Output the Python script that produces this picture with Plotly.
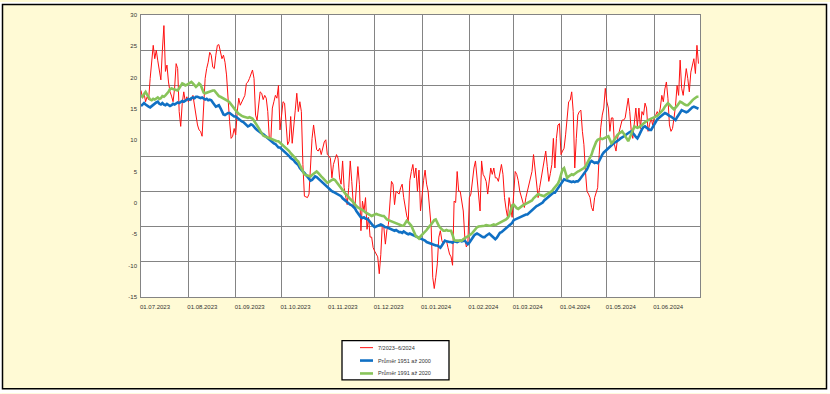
import pandas as pd
import plotly.graph_objects as go

# ---------------- data ----------------
start_date = "2023-07-01"
end_date = "2024-07-01"

series_names = ["7/2023\u20136/2024", "Pr\u016fm\u011br 1951 a\u017e 2000", "Pr\u016fm\u011br 1991 a\u017e 2020"]

# daily values 01.07.2023 - 30.06.2024 (one row per month)
temp_2023_2024 = (
    [19.3, 18.2, 18.9, 17.7, 18.4, 18.0, 21.0, 23.3, 25.7, 23.8, 25.0, 23.5, 22.4, 20.8, 25.0, 28.5,
     22.0, 22.9, 20.5, 19.1, 18.5, 17.7, 19.6, 23.1, 22.4, 16.3, 14.2, 17.5, 19.1, 17.7, 18.4]
    + [17.7, 18.2, 17.9, 18.6, 17.2, 15.8, 14.4, 13.7, 13.5, 12.8, 17.5, 21.0, 22.4, 23.3, 24.7, 24.3,
       22.6, 22.4, 24.3, 25.7, 25.8, 25.0, 23.8, 24.3, 23.3, 21.5, 17.7, 14.9, 12.5, 12.8, 13.9]
    + [13.0, 16.3, 18.2, 17.2, 17.7, 18.2, 18.6, 20.3, 20.5, 21.0, 21.7, 22.2, 21.0, 15.8, 15.1,
       17.0, 19.1, 18.9, 18.0, 18.6, 18.2, 16.3, 12.5, 12.3, 16.8, 17.7, 18.6, 18.2, 20.0, 13.7]
    + [15.5, 17.7, 17.5, 14.0, 11.6, 12.1, 15.6, 11.8, 14.9, 16.5, 18.9, 16.3, 17.7, 16.3, 8.8, 4.3,
       4.2, 4.1, 4.6, 9.7, 12.5, 14.4, 12.1, 10.9, 10.7, 11.1, 10.2, 11.1, 12.0, 12.3, 10.2]
    + [10.0, 9.7, 6.9, 8.8, 9.5, 10.2, 9.7, 6.9, 6.0, 9.3, 5.5, 4.0, 3.1, 5.5, 9.3,
       6.4, 3.1, 2.6, 5.5, 8.5, 6.0, -0.6, 3.6, 2.2, 4.1, -0.4, 1.3, -1.5, -1.5, -3.0]
    + [-3.5, -3.9, -4.3, -6.7, -4.0, 0.3, -0.1, -2.5, -0.5, 0.3, 4.0, 6.4, 6.0, 3.1, 5.0, 4.8,
       4.6, 5.5, 6.0, 4.1, 2.6, 1.5, 0.8, 6.5, 7.8, 8.8, 6.9, 8.3, 5.0, 8.0, 2.2]
    + [5.0, 6.5, 8.0, 6.0, 5.0, 2.2, -0.1, -7.2, -8.8, -7.2, -5.3, -1.5, -0.6, -2.0, -2.5, -2.0,
       -2.0, -3.0, -3.9, -4.3, -5.5, 3.6, 3.4, 7.8, 5.0, 5.0, 3.5, 2.2, -1.5, -2.9, -2.5]
    + [4.1, 4.6, 6.9, 8.3, 9.3, 7.0, 5.5, 2.2, 9.3, 7.4, 7.0, 6.4, 4.6, 6.5, 8.3,
       7.4, 8.3, 6.9, 6.9, 6.4, 7.5, 8.8, 7.4, 4.1, 2.5, 1.3, 4.1, 2.5, 1.3]
    + [4.5, 7.8, 7.4, 6.5, 5.0, 4.1, 3.5, 2.7, 4.1, 5.0, 6.0, 7.0, 7.8, 10.2, 7.8, 6.0,
       4.1, 5.5, 6.9, 8.5, 9.5, 10.7, 8.5, 6.4, 7.5, 8.8, 12.5, 8.3, 12.5, 14.4, 14.6]
    + [10.2, 10.7, 11.1, 13.0, 14.9, 17.7, 17.9, 19.1, 16.3, 8.3, 12.5, 15.8, 16.3, 16.5, 13.5,
       11.6, 7.8, 5.0, 4.6, 4.1, 2.7, 2.2, 4.1, 5.0, 5.5, 10.2, 14.0, 15.8, 16.8, 19.6]
    + [17.7, 16.8, 13.5, 15.4, 15.4, 11.6, 10.7, 12.5, 13.5, 14.4, 15.1, 15.1, 15.4, 16.8, 18.2, 16.3,
       13.5, 12.5, 14.4, 16.8, 14.2, 16.8, 13.9, 16.3, 15.8, 17.5, 16.8, 13.5, 14.5, 15.4, 14.4]
    + [15.4, 15.8, 16.3, 15.8, 16.8, 18.6, 17.7, 19.5, 20.5, 18.2, 14.4, 13.5, 13.9, 15.4, 17.2,
       20.0, 18.6, 23.6, 19.6, 18.6, 20.5, 22.4, 21.0, 19.1, 21.9, 22.9, 23.8, 21.7, 25.7, 23.1]
)

avg_1951_2000 = (
    [17.1, 17.3, 17.5, 17.3, 17.1, 17.0, 16.9, 17.1, 17.3, 17.5, 17.6, 17.7, 17.4, 17.3, 17.5, 17.3,
     17.2, 17.4, 17.2, 17.1, 17.2, 17.4, 17.3, 17.5, 17.6, 17.5, 17.7, 17.8, 17.7, 17.9, 18.0]
    + [18.1, 18.0, 18.2, 18.3, 18.2, 18.4, 18.4, 18.3, 18.2, 18.3, 18.1, 18.0, 18.1, 17.9, 18.0, 17.9,
       17.6, 17.3, 17.0, 17.1, 17.2, 16.8, 16.3, 15.9, 15.8, 16.0, 16.1, 16.1, 15.9, 15.7, 15.6]
    + [15.6, 15.4, 15.3, 15.1, 14.9, 14.8, 14.6, 14.3, 14.2, 14.3, 14.5, 14.4, 14.1, 13.9, 13.7,
       13.5, 13.4, 13.2, 13.1, 12.9, 12.7, 12.5, 12.3, 12.2, 12.0, 11.8, 11.7, 11.5, 11.2, 11.2]
    + [11.0, 10.9, 10.7, 10.5, 10.2, 10.0, 9.7, 9.6, 9.4, 9.1, 8.9, 8.7, 8.3, 8.0, 7.8, 7.6,
       7.3, 7.0, 6.7, 6.5, 6.6, 6.9, 7.1, 7.0, 6.8, 6.5, 6.4, 6.2, 5.9, 5.7, 5.5]
    + [5.4, 5.2, 5.0, 4.9, 4.8, 4.6, 4.5, 4.4, 4.3, 4.0, 3.8, 3.6, 3.4, 3.3, 3.1,
       3.0, 2.8, 2.6, 2.2, 1.9, 1.6, 1.3, 1.2, 1.3, 1.1, 1.1, 0.9, 0.6, 0.3, 0.1]
    + [-0.1, 0.0, 0.1, 0.2, 0.3, 0.2, 0.0, -0.1, -0.1, -0.2, -0.3, -0.4, -0.5, -0.6, -0.5, -0.7,
       -0.8, -0.8, -0.9, -0.7, -0.9, -1.0, -1.1, -1.0, -1.1, -1.2, -1.2, -1.3, -1.4, -1.5, -1.7]
    + [-1.8, -1.9, -2.0, -2.2, -2.3, -2.4, -2.5, -2.6, -2.6, -2.7, -2.7, -2.9, -3.0, -2.7, -2.3, -2.0,
       -2.1, -2.2, -2.2, -2.2, -2.3, -2.1, -2.2, -2.2, -2.1, -2.0, -2.1, -2.0, -2.0, -2.3, -2.5]
    + [-2.3, -1.9, -1.5, -1.3, -1.1, -1.0, -1.1, -1.3, -1.4, -1.5, -1.5, -1.3, -1.1, -1.0, -1.2,
       -1.4, -1.6, -1.8, -1.6, -1.2, -0.9, -0.8, -0.6, -0.4, -0.2, -0.1, 0.1, 0.3, 0.5]
    + [0.9, 1.0, 1.2, 1.3, 1.4, 1.5, 1.5, 1.6, 1.7, 1.7, 1.9, 2.2, 2.4, 2.6, 2.7, 2.9,
       3.0, 3.1, 3.2, 3.4, 3.7, 3.9, 4.1, 4.3, 4.4, 4.6, 4.8, 4.8, 5.1, 5.5, 5.8]
    + [6.1, 6.4, 6.7, 6.6, 6.5, 6.4, 6.4, 6.3, 6.4, 6.3, 6.4, 6.4, 6.6, 6.9, 7.2,
       7.4, 7.7, 8.1, 8.6, 9.1, 9.3, 9.2, 9.0, 9.1, 9.0, 9.3, 9.8, 10.2, 10.5, 10.7]
    + [10.9, 11.1, 11.4, 11.6, 11.7, 11.9, 12.0, 12.1, 12.3, 12.5, 12.6, 12.8, 12.9, 13.1, 13.3, 13.4,
       13.5, 13.3, 13.0, 12.7, 12.5, 12.9, 13.4, 13.8, 14.1, 14.2, 14.0, 13.8, 13.7, 13.7, 14.1]
    + [14.5, 14.9, 15.2, 15.4, 15.6, 15.8, 16.0, 16.1, 16.0, 15.8, 15.7, 15.6, 15.4, 15.2, 15.1,
       15.5, 15.9, 16.3, 16.5, 16.4, 16.3, 16.2, 16.3, 16.5, 16.8, 16.9, 17.0, 16.9, 16.8, 16.7]
)

avg_1991_2020 = (
    [18.6, 18.4, 18.8, 19.1, 18.7, 18.3, 18.0, 17.9, 18.1, 18.0, 18.1, 18.3, 18.1, 18.2, 18.5, 18.4,
     18.6, 18.8, 19.1, 19.5, 19.6, 19.5, 19.4, 19.3, 19.3, 19.6, 19.9, 20.3, 20.2, 20.0, 20.1]
    + [20.2, 20.4, 20.5, 20.3, 20.0, 19.8, 20.0, 20.3, 20.1, 19.5, 19.0, 18.9, 19.0, 19.1, 19.1, 19.2,
       19.3, 19.3, 19.0, 18.7, 18.5, 18.4, 18.3, 18.2, 18.1, 18.0, 17.8, 17.6, 17.3, 17.0, 16.8]
    + [16.5, 16.2, 16.0, 15.8, 15.7, 15.6, 15.5, 15.4, 15.4, 15.5, 15.4, 15.3, 15.0, 14.7, 14.4,
       14.0, 13.6, 13.2, 12.9, 12.8, 12.7, 12.6, 12.5, 12.4, 12.3, 12.2, 12.1, 12.1, 12.1, 11.9]
    + [11.7, 11.5, 11.4, 11.2, 10.9, 10.7, 10.4, 10.2, 9.9, 9.7, 9.4, 9.2, 8.7, 8.2, 7.8, 7.4,
       7.3, 7.2, 7.1, 7.1, 7.3, 7.5, 7.7, 7.8, 7.6, 7.3, 7.1, 6.9, 6.7, 6.4, 6.2]
    + [6.3, 6.5, 6.6, 6.7, 6.6, 6.3, 6.0, 5.7, 5.4, 5.1, 4.8, 4.6, 4.4, 4.1, 3.9,
       3.7, 3.4, 3.1, 2.9, 2.7, 2.6, 2.4, 2.3, 2.2, 2.0, 1.9, 1.7, 1.6, 1.5, 1.6]
    + [1.7, 1.8, 1.7, 1.6, 1.6, 1.5, 1.5, 1.2, 1.0, 0.9, 0.8, 0.8, 0.6, 0.5, 0.4, 0.3,
       0.2, 0.2, 0.1, 0.1, 0.4, 0.8, 0.6, 0.3, 0.1, -0.4, -1.0, -1.4, -1.5, -1.7, -1.4]
    + [-1.2, -1.0, -0.8, -0.5, -0.2, 0.0, 0.3, 0.6, 0.9, 1.0, 0.5, 0.1, -0.2, -0.4, -0.6, -0.6,
       -0.5, -0.6, -0.6, -0.6, -1.2, -1.9, -2.0, -2.0, -1.9, -2.0, -2.0, -1.8, -1.6, -1.5, -1.4]
    + [-1.3, -1.1, -0.9, -0.6, -0.4, -0.1, 0.0, 0.0, 0.1, 0.1, 0.1, 0.2, 0.1, 0.1, 0.1,
       0.2, 0.3, 0.2, 0.3, 0.4, 0.5, 0.6, 0.7, 0.8, 1.0, 1.2, 1.5, 2.2, 3.0]
    + [3.1, 2.8, 2.6, 2.5, 2.7, 2.9, 3.0, 3.1, 3.2, 3.3, 3.4, 3.5, 3.7, 4.0, 4.2, 4.4,
       4.6, 4.5, 4.4, 4.3, 4.3, 4.5, 4.6, 4.8, 4.9, 5.0, 5.3, 5.6, 5.9, 6.1, 6.6]
    + [7.3, 8.1, 8.3, 7.4, 6.9, 7.1, 7.3, 7.4, 7.3, 7.5, 7.7, 7.8, 7.9, 8.0, 8.2,
       8.3, 8.5, 8.9, 9.3, 9.7, 10.2, 10.9, 11.5, 12.0, 12.3, 12.4, 12.5, 12.4, 12.5, 12.6]
    + [12.7, 12.8, 12.3, 11.8, 12.0, 12.4, 12.8, 13.0, 13.2, 13.4, 13.5, 13.2, 12.8, 12.4, 12.1, 12.6,
       13.2, 13.7, 14.2, 14.1, 14.0, 14.1, 14.2, 14.4, 14.6, 14.8, 15.0, 15.1, 15.2, 15.3, 15.3]
    + [15.4, 15.5, 15.7, 15.9, 16.1, 16.3, 16.6, 17.0, 17.3, 17.5, 17.3, 17.0, 16.8, 16.6, 16.8,
       17.1, 17.4, 17.7, 17.6, 17.4, 17.3, 17.2, 17.2, 17.4, 17.7, 17.9, 18.1, 18.3, 18.4, 18.4]
)

x_tick_labels = ["01.07.2023", "01.08.2023", "01.09.2023", "01.10.2023", "01.11.2023",
                 "01.12.2023", "01.01.2024", "01.02.2024", "01.03.2024", "01.04.2024",
                 "01.05.2024", "01.06.2024"]
y_tick_labels = ["30", "25", "20", "15", "10", "5", "0", "-5", "-10", "-15"]
y_grid_range = [-10, 30]

series_values = [temp_2023_2024, avg_1951_2000, avg_1991_2020]
series_colors = ["#FF1010", "#1070C4", "#88C45A"]
series_widths = [1.0, 2.6, 2.6]

# ---------------- figure ----------------
W, H = 830, 394
L, R, T, B = 141, 130, 13, 97
PW, PH = W - L - R, H - T - B


def px(x):
    return (x - L) / PW


def py(y):
    return (H - B - y) / PH


dates = pd.date_range(start_date, periods=len(temp_2023_2024), freq="D")
x_tick_vals = pd.to_datetime(x_tick_labels, format="%d.%m.%Y")
y_label_vals = [int(v) for v in y_tick_labels]

fig = go.Figure()
for name, vals, col, wd in zip(series_names, series_values, series_colors, series_widths):
    fig.add_trace(go.Scatter(x=dates, y=vals, name=name, mode="lines",
                             line=dict(color=col, width=wd), showlegend=False))
# carrier for the labelled value axis
fig.add_trace(go.Scatter(x=[dates[0]], y=[None], yaxis="y2", showlegend=False,
                         hoverinfo="skip", mode="lines"))

grid_col = "#848484"
font_fam = "Liberation Sans, Arial, sans-serif"

shapes = []
# white strips outside the frame
for (x0, y0, x1, y1) in [(0, 0, 2, H), (827, 0, W, H), (0, 0, W, 2), (0, 390, W, H)]:
    shapes.append(dict(type="rect", xref="paper", yref="paper", x0=px(x0), x1=px(x1),
                       y0=py(y1), y1=py(y0), fillcolor="white", line=dict(width=0)))
# frame
shapes.append(dict(type="rect", xref="paper", yref="paper", x0=px(2.5), x1=px(826.5),
                   y0=py(389.5), y1=py(2.5), line=dict(color="black", width=1.5)))
# legend box
shapes.append(dict(type="rect", xref="paper", yref="paper", x0=px(342), x1=px(449),
                   y0=py(380.5), y1=py(341), fillcolor="white", line=dict(color="black", width=1.3)))
legend_rows = [348, 361, 374]
annotations = []
for name, col, wd, yy in zip(series_names, series_colors, series_widths, legend_rows):
    shapes.append(dict(type="line", xref="paper", yref="paper", x0=px(360), x1=px(373),
                       y0=py(yy), y1=py(yy), line=dict(color=col, width=wd)))
    annotations.append(dict(xref="paper", yref="paper", x=px(376), y=py(yy), text=name,
                            showarrow=False, xanchor="left", yanchor="middle",
                            font=dict(size=5.5, color="#333333", family=font_fam)))

fig.update_layout(
    width=W, height=H,
    margin=dict(l=L, r=R, t=T, b=B, pad=0),
    paper_bgcolor="#FFFAD5",
    plot_bgcolor="white",
    font=dict(family=font_fam, size=6, color="#333333"),
    showlegend=False,
    xaxis=dict(type="date", range=[start_date, end_date], tickmode="array",
               tickvals=x_tick_vals, ticktext=x_tick_labels, showgrid=True,
               gridcolor=grid_col, gridwidth=1.4, showline=True, linecolor=grid_col,
               linewidth=1.4, mirror=True, ticks="", ticklabelshift=14,
               ticklabelstandoff=4,
               tickfont=dict(size=6, color="#333333"), zeroline=False),
    yaxis=dict(range=y_grid_range, tickmode="linear", tick0=0, dtick=5, showgrid=True,
               gridcolor=grid_col, gridwidth=1.4, showline=True, linecolor=grid_col,
               linewidth=1.4, mirror=True, ticks="", showticklabels=False, zeroline=False),
    yaxis2=dict(overlaying="y", side="left", range=[y_label_vals[-1], y_label_vals[0]],
                tickmode="array", tickvals=y_label_vals, ticktext=y_tick_labels,
                showgrid=False, zeroline=False, showline=False, ticks="",
                ticklabelstandoff=3,
                tickfont=dict(size=6, color="#333333")),
    shapes=shapes,
    annotations=annotations,
)

fig.write_html("out.html", config={"displayModeBar": False},
               post_script="document.body.style.margin='0';")
